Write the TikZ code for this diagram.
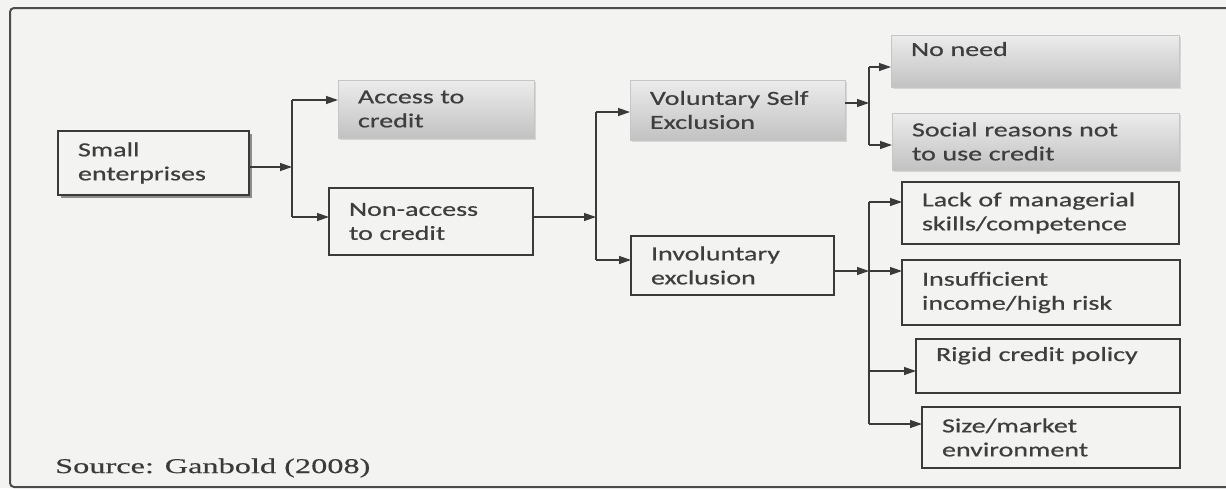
\documentclass[tikz,border=0pt]{standalone}
\usepackage{fontspec}
\setmainfont{Carlito}[FakeStretch=1.4,FakeBold=0.6]
\newfontfamily\srcfont{Liberation Serif}[FakeStretch=1.54,FakeBold=0.4]
\usetikzlibrary{arrows.meta,shadows}
\definecolor{bgc}{HTML}{F3F3F1}
\definecolor{ink}{HTML}{3A3A3A}
\definecolor{txt}{HTML}{3E3E3E}
\definecolor{gtop}{HTML}{ECECEC}
\definecolor{gbot}{HTML}{C2C2C2}
\tikzset{
  bx/.style={draw=ink, line width=1.5pt, fill=bgc, anchor=north west, inner xsep=20pt, inner ysep=0pt,
    align=left, outer sep=0pt, text=txt},
  gbx/.style={anchor=north west, inner xsep=20pt, inner ysep=0pt, align=left, outer sep=0pt, text=txt,
    top color=gtop, bottom color=gbot, draw=gray!45, line width=0.5pt,
    drop shadow={shadow xshift=1.5pt, shadow yshift=-1.5pt, opacity=0.25}},
  ln/.style={draw=ink, line width=1.3pt},
  arr/.style={draw=ink, line width=1.3pt, -{Triangle[length=12pt,width=8pt]}},
  frame/.style={draw=gray!60!black, line width=2pt}
}
\begin{document}
\begin{tikzpicture}[x=1pt, y=-1pt, font=\fontsize{20}{24}\selectfont]
\fill[bgc] (0,0) rectangle (1226,488);
\useasboundingbox (0,0) rectangle (1226,488);
\draw[frame, rounded corners=4pt] (1226,8) -- (10,8) -- (10,487) -- (1226,487);

% boxes
\node[bx, minimum width=191pt, minimum height=64pt, text width=151pt,
  drop shadow={shadow xshift=3pt, shadow yshift=-3pt, fill=ink, opacity=0.55}] (small) at (58,131) {Small\\enterprises};
\node[gbx, minimum width=196pt, minimum height=58pt, text width=156pt] (access) at (338,80) {Access to\\credit};
\node[bx, minimum width=204pt, minimum height=67pt, text width=164pt] (nonacc) at (329,188) {Non-access\\to credit};
\node[gbx, minimum width=215pt, minimum height=60pt, text width=175pt] (vol) at (630,80) {Voluntary Self\\Exclusion};
\node[bx, minimum width=203pt, minimum height=59pt, text width=163pt] (invol) at (631,236) {Involuntary\\exclusion};
\node[gbx, minimum width=288pt, minimum height=52pt, text width=248pt] (noneed) at (891,35) {No need\\\mbox{}};
\node[gbx, minimum width=287pt, minimum height=57pt, text width=247pt] (social) at (892,113) {Social reasons not\\to use credit};
\node[bx, minimum width=277pt, minimum height=62pt, text width=237pt] (lack) at (902,182) {Lack of managerial\\skills/competence};
\node[bx, minimum width=278pt, minimum height=65pt, text width=238pt] (insuf) at (902,260) {Insufficient\\income/high risk};
\node[bx, minimum width=264pt, minimum height=54pt, text width=224pt] (rigid) at (916,339) {Rigid credit policy\\\mbox{}};
\node[bx, minimum width=258pt, minimum height=61pt, text width=218pt] (size) at (922,407) {Size/market\\environment};

\node[anchor=west, inner sep=0pt, text=ink, font=\srcfont\fontsize{21}{24}\selectfont] (src) at (55,468) {Source: Ganbold (2008)};

% junctions
\coordinate (j1) at (292,167);
\coordinate (j1t) at (292,100);
\coordinate (j1b) at (292,217);
\coordinate (j2) at (596,217);
\coordinate (j2t) at (596,112);
\coordinate (j2b) at (596,260);
\coordinate (j3) at (869,103);
\coordinate (j3t) at (869,67);
\coordinate (j3b) at (869,145);
\coordinate (j4) at (869,271);
\coordinate (j4t) at (869,202);
\coordinate (j4b) at (869,424);
\coordinate (j4r) at (869,371);

% connectors
\draw[arr] (small.east |- j1) -- (j1);
\draw[ln] (j1t) -- (j1b);
\draw[arr] (j1t) -- (access.west |- j1t);
\draw[arr] (j1b) -- (nonacc.west |- j1b);

\draw[arr] (nonacc.east |- j2) -- (j2);
\draw[ln] (j2t) -- (j2b);
\draw[arr] (j2t) -- (vol.west |- j2t);
\draw[arr] (j2b) -- (invol.west |- j2b);

\draw[arr] (vol.east |- j3) -- (j3);
\draw[ln] (j3t) -- (j3b);
\draw[arr] (j3t) -- (noneed.west |- j3t);
\draw[arr] (j3b) -- (social.west |- j3b);

\draw[arr] (invol.east |- j4) -- (j4);
\draw[ln] (j4t) -- (j4b);
\draw[arr] (j4t) -- (lack.west |- j4t);
\draw[arr] (j4) -- (insuf.west |- j4);
\draw[arr] (j4r) -- (rigid.west |- j4r);
\draw[arr] (j4b) -- (size.west |- j4b);
\end{tikzpicture}
\end{document}
